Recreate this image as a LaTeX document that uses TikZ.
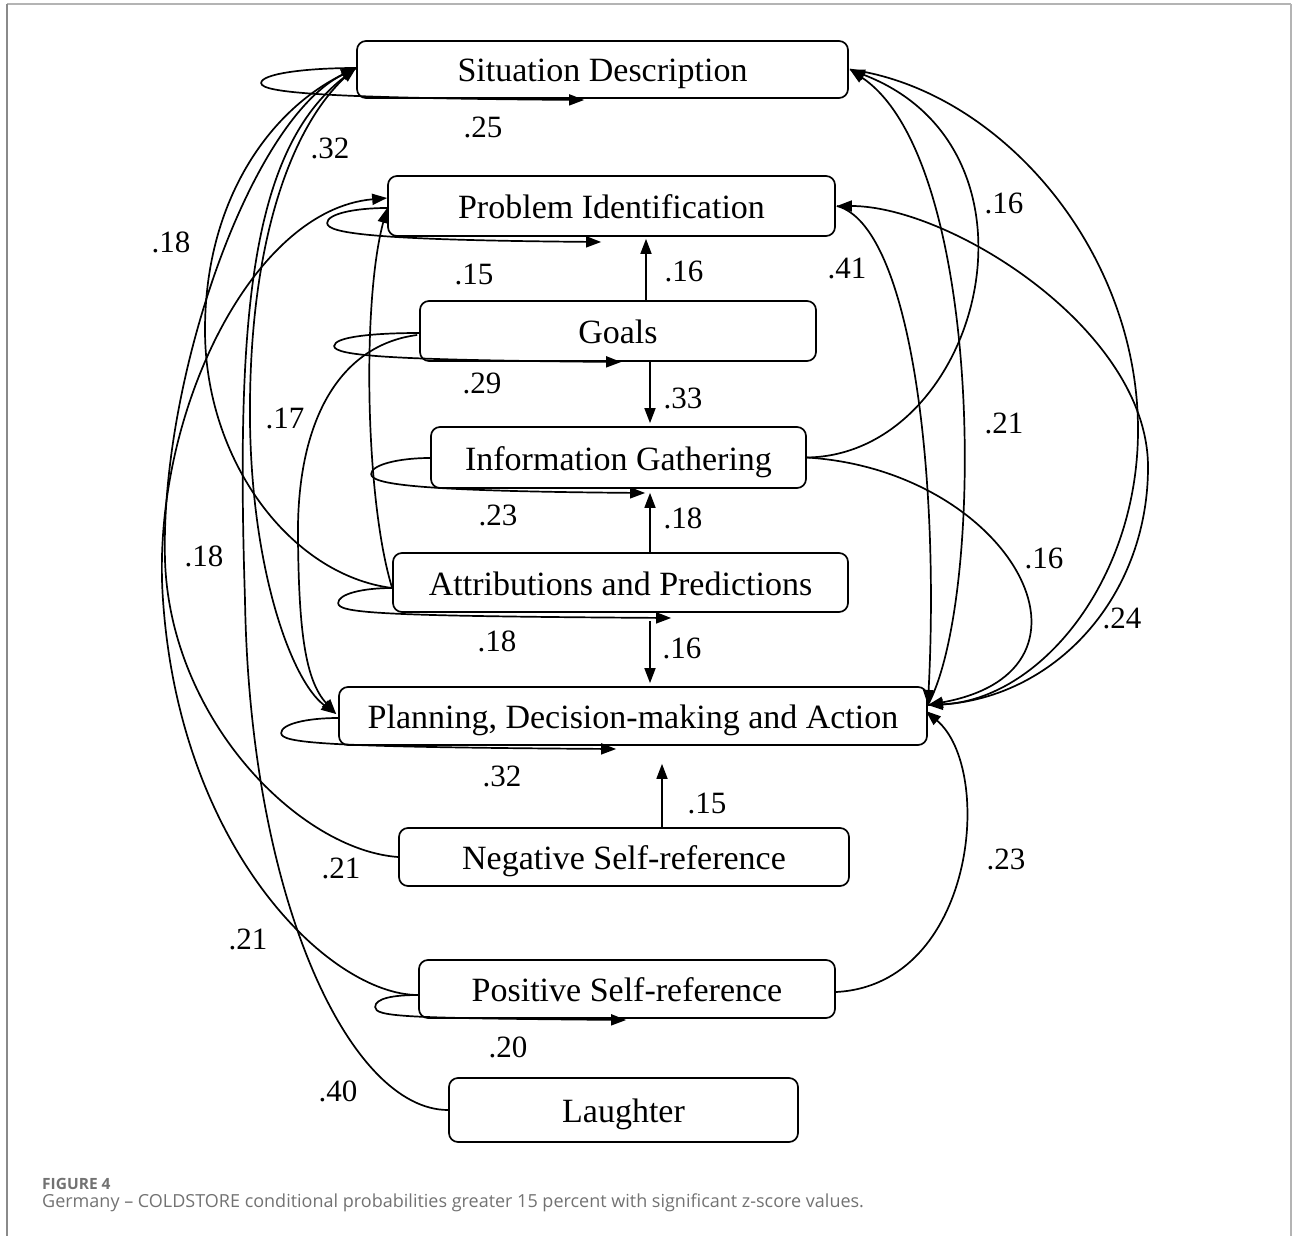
\documentclass[tikz,border=0pt]{standalone}
\usepackage{fontspec}
\setmainfont{Liberation Serif}
\newfontfamily\captionfamily{Open Sans}
\usetikzlibrary{arrows.meta,calc}

\definecolor{frametop}{HTML}{B4B4B4}
\definecolor{frameleft}{HTML}{8A8A8A}
\definecolor{captext}{HTML}{727272}

% self-loop: node, start dy, leftward reach, dy of leftmost point, end dx (from west), end dy
\newcommand{\drawselfloop}[6]{%
  \draw[edge] ($(#1.west)+(0,#2)$)
    .. controls ($(#1.west)+(-0.55*#3,#2)$) and ($(#1.west)+(-#3,#4-9)$) .. ($(#1.west)+(-#3,#4)$)
    .. controls ($(#1.west)+(-#3,#4+10)$) and ($(#1.west)+(-0.3*#3,#6-2)$) .. ($(#1.west)+(#5,#6)$);
}

\begin{document}
\begin{tikzpicture}[x=1pt,y=-1pt,
  box/.style={draw, line width=1.7pt, rounded corners=9pt, inner sep=0pt,
    text height=25pt, text depth=0pt, font=\fontsize{34}{40}\selectfont},
  edge/.style={line width=1.7pt, -{Triangle[length=15pt,width=11pt]}},
  lbl/.style={inner sep=0pt, font=\fontsize{31}{36}\selectfont},
]
\useasboundingbox (0,0) rectangle (1293,1236);

% page frame
\draw[frametop, line width=1.5pt] (7,4) -- (1291,4);
\draw[frameleft, line width=1.5pt] (7,4) -- (7,1236);
\draw[frametop, line width=1.5pt] (1291,4) -- (1291,1236);

% categories
\node[box, minimum width=491pt, minimum height=57pt] (sd) at (602.5,69.5) {Situation Description};
\node[box, minimum width=447pt, minimum height=60pt] (pi) at (611.5,206) {Problem Identification};
\node[box, minimum width=396pt, minimum height=60pt] (go) at (618,331) {Goals};
\node[box, minimum width=375pt, minimum height=61pt] (ig) at (618.5,457.5) {Information Gathering};
\node[box, minimum width=455pt, minimum height=59pt] (at) at (620.5,582.5) {Attributions and Predictions};
\node[box, minimum width=588pt, minimum height=58pt] (pl) at (633,716) {Planning, Decision-making and Action};
\node[box, minimum width=450pt, minimum height=58pt] (ng) at (624,857) {Negative Self-reference};
\node[box, minimum width=416pt, minimum height=58pt] (ps) at (627,989) {Positive Self-reference};
\node[box, minimum width=349pt, minimum height=64pt] (la) at (623.5,1110) {Laughter};

% attachment points on the boxes
\coordinate (sdL) at ($(sd.west)+(0,-1.5)$);
\coordinate (sdR) at ($(sd.east)+(1,0)$);
\coordinate (piL1) at ($(pi.west)+(0,-8)$);
\coordinate (piL2) at ($(pi.west)+(0,2)$);
\coordinate (piR) at ($(pi.east)+(1,0)$);
\coordinate (goL) at ($(go.west)+(-2,4)$);
\coordinate (igR) at ($(ig.east)+(0,0)$);
\coordinate (atL) at ($(at.west)+(0,5.5)$);
\coordinate (plL) at ($(pl.west)+(-2,-2)$);
\coordinate (plR) at ($(pl.east)+(0,-11)$);
\coordinate (plR2) at ($(pl.east)+(-2,-5)$);
\coordinate (psL) at ($(ps.west)+(0,6)$);
\coordinate (psR) at ($(ps.east)+(0,3)$);
\coordinate (v1) at (646,0);
\coordinate (v2) at (650,0);
\coordinate (v3) at (662,0);

% self-transitions
\drawselfloop{sd}{-1.5}{95}{13.5}{228}{30.5}
\drawselfloop{pi}{2}{60}{17}{214}{36}
\drawselfloop{go}{2}{85}{15}{202}{31}
\drawselfloop{ig}{0.5}{59}{16.5}{215}{35.5}
\drawselfloop{at}{5.5}{54}{20.5}{279}{35.5}
\drawselfloop{pl}{2}{57}{17}{278}{33}
\drawselfloop{ps}{6}{43}{18}{208}{31}

% straight transitions between neighbours
\draw[edge] (go.north -| v1) -- ($(pi.south -| v1)+(0,2)$);
\draw[edge] (go.south -| v2) -- ($(ig.north -| v2)+(0,-3)$);
\draw[edge] (at.north -| v2) -- ($(ig.south -| v2)+(0,4)$);
\draw[edge] ($(at.south -| v2)+(0,8)$) -- ($(pl.north -| v2)+(0,-3)$);
\draw[edge] (ng.north -| v3) -- ($(pl.south -| v3)+(0,18)$);

% arcs on the right
\draw[edge] (piR) .. controls (910,225) and (940,470) .. (plR);
\draw[edge] (plR) .. controls (985,600) and (985,160) .. (sdR);
\draw[edge] (igR) .. controls (980,455) and (1060,150) .. (sdR);
\draw[edge] (plR) .. controls (1050,705) and (1148,600) .. (1148,467)
               .. controls (1148,330) and (950,206) .. (piR);
\draw[edge] (sdR) .. controls (1000,90) and (1138,250) .. (1138,430)
               .. controls (1138,580) and (1040,700) .. (plR);
\draw[edge] (igR) .. controls (1010,470) and (1120,670) .. (plR);
\draw[edge] (psR) .. controls (975,985) and (995,770) .. (plR2);

% arcs on the left
\draw[edge] (ng.west) .. controls (300,850) and (170,720) .. (165,560)
               .. controls (160,380) and (250,120) .. (sdL);
\draw[edge] (psL) .. controls (330,995) and (180,850) .. (163,600)
               .. controls (150,420) and (250,210) .. (piL1);
\draw[edge] (la.west) .. controls (350,1110) and (250,900) .. (245,600)
               .. controls (236,320) and (250,150) .. (sdL);
\draw[edge] (atL) .. controls (290,575) and (205,460) .. (205,330)
               .. controls (205,200) and (270,110) .. (sdL);
\draw[edge] (sdL) .. controls (300,110) and (252,220) .. (250,400)
               .. controls (248,560) and (290,680) .. (plL);
\draw[edge] (goL) .. controls (340,345) and (296,420) .. (298,540)
               .. controls (299,630) and (305,680) .. (plL);
\draw[edge] (atL) .. controls (365,500) and (362,300) .. (piL2);

% transition probabilities
\node[lbl] (p01) at (483,127) {.25};
\node[lbl] (p02) at (330,148) {.32};
\node[lbl] (p03) at (1004,203) {.16};
\node[lbl] (p04) at (171,242) {.18};
\node[lbl] (p05) at (474,274) {.15};
\node[lbl] (p06) at (684,271) {.16};
\node[lbl] (p07) at (847,268) {.41};
\node[lbl] (p08) at (482,383) {.29};
\node[lbl] (p09) at (683,398) {.33};
\node[lbl] (p10) at (285,418) {.17};
\node[lbl] (p11) at (1004,423) {.21};
\node[lbl] (p12) at (498,515) {.23};
\node[lbl] (p13) at (683,518) {.18};
\node[lbl] (p14) at (204,556) {.18};
\node[lbl] (p15) at (1044,558) {.16};
\node[lbl] (p16) at (1122,618) {.24};
\node[lbl] (p17) at (497,641) {.18};
\node[lbl] (p18) at (682,648) {.16};
\node[lbl] (p19) at (502,776) {.32};
\node[lbl] (p20) at (707,803) {.15};
\node[lbl] (p21) at (341,868) {.21};
\node[lbl] (p22) at (1006,859) {.23};
\node[lbl] (p23) at (248,939) {.21};
\node[lbl] (p24) at (508,1047) {.20};
\node[lbl] (p25) at (338,1091) {.40};

% caption
\node[anchor=base west, inner sep=0pt, text=captext,
  font=\captionfamily\bfseries\fontsize{15.5}{18}\selectfont] (fignum) at (42,1189) {FIGURE 4};
\node[anchor=base west, inner sep=0pt, text=captext,
  font=\captionfamily\fontsize{18}{21}\selectfont] (figcap) at (42,1207)
  {Germany – COLDSTORE conditional probabilities greater 15 percent with significant z-score values.};
\end{tikzpicture}
\end{document}
